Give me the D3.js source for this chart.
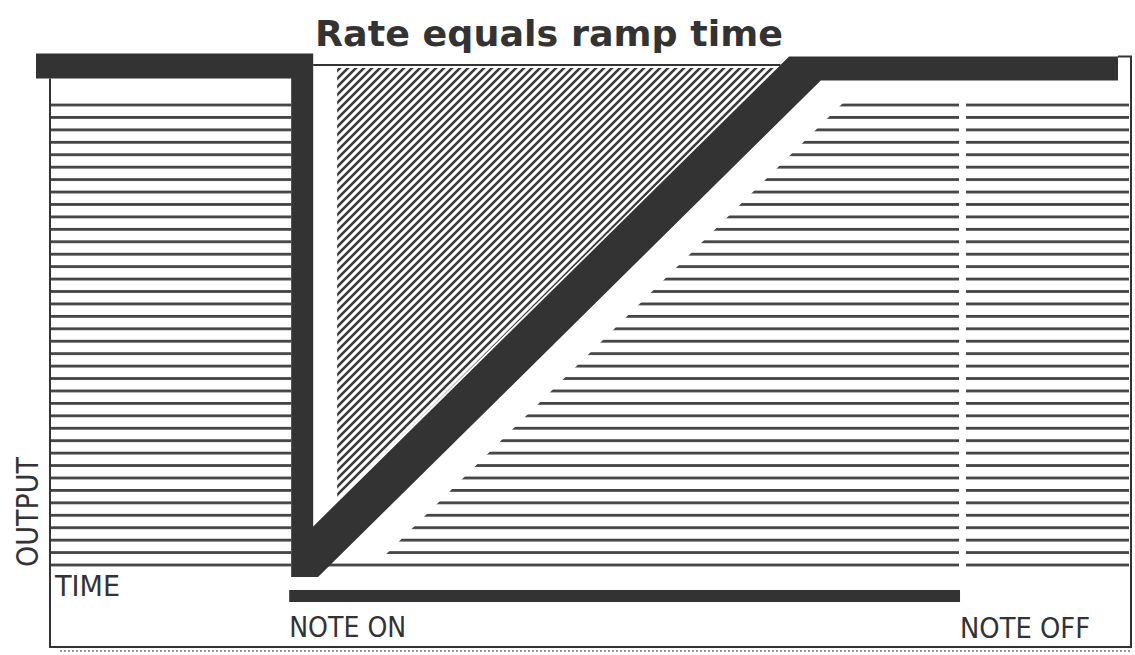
<!DOCTYPE html>
<html>
<head>
<meta charset="utf-8">
<script src="https://cdn.jsdelivr.net/npm/d3@7"></script>
<style>
  html, body { margin: 0; padding: 0; background: #fff; }
  svg { display: block; }
</style>
</head>
<body>
<svg id="chart" width="1135" height="655"></svg>
<script>
// ---------------- data ----------------
const titleText = "Rate equals ramp time";
const envelopeTime = [0, 24.6, 24.6, 71.3, 100];   // % of time window
const envelopeOutput = [1, 1, 0, 1, 1];             // normalized output
const noteOnTime = 24.6;
const noteOffTime = 85.4;
const axisLabels = ["OUTPUT", "TIME"];
const noteLabels = ["NOTE ON", "NOTE OFF"];

// ---------------- layout ----------------
const ink = "#333";
const svg = d3.select("#chart");
const x = d3.scaleLinear().domain([0, 100]).range([36, 1118]);
const y = d3.scaleLinear().domain([0, 1]).range([565, 66]);

const frame = { left: 50, right: 1131, bottom: 647, stripeTop: 99, stripeBottom: 569 };
const pen = { hw: 11, hh: 12.5, dw: 28 };   // pen half sizes

const pts = envelopeTime.map((t, i) => ({ t, v: envelopeOutput[i] }));
const pOn = pts[2], pRamp = pts[3];
const xOn = x(pOn.t), y0 = y(pOn.v), xR = x(pRamp.t), y1 = y(pRamp.v);
const k = (xR - xOn) / (y0 - y1);
const xc = yy => xOn + (y0 - yy) * k;       // diagonal center line
const up = yy => xc(yy) - pen.dw;           // upper-left edge
const lo = yy => xc(yy) + pen.dw;           // lower-right edge
const yAtUp = xx => y0 - (xx + pen.dw - xOn) / k;

const xOnL = xOn - pen.hw, xOnR = xOn + pen.hw;
const yt = y(1) - pen.hh, yb = y(1) + pen.hh, ybot = y(0) + 12;

// ---------------- patterns ----------------
const defs = svg.append("defs");
const stripeGap = (y(0) - 105) / 37;
const sp = defs.append("pattern").attr("id", "stripes")
  .attr("patternUnits", "userSpaceOnUse")
  .attr("x", 0).attr("y", 105 - 1.4)
  .attr("width", 20).attr("height", stripeGap);
sp.append("rect").attr("x", 0).attr("y", 0).attr("width", 20).attr("height", 2.8).attr("fill", "#444");

const hp = defs.append("pattern").attr("id", "hatch")
  .attr("patternUnits", "userSpaceOnUse")
  .attr("width", 8).attr("height", 8);
hp.append("path").attr("d", "M-1,1 l2,-2 M0,8 l8,-8 M7,9 l2,-2")
  .attr("stroke", "#3a3a3a").attr("stroke-width", 2.6);

// ---------------- stripes (left and right of the envelope) ----------------
svg.append("rect")
  .attr("x", frame.left + 1).attr("y", frame.stripeTop)
  .attr("width", xOnL - frame.left - 1).attr("height", frame.stripeBottom - frame.stripeTop)
  .attr("fill", "url(#stripes)");

const sOff = 45;
const rightPoly = [
  [lo(frame.stripeTop) + sOff, frame.stripeTop],
  [frame.right - 2, frame.stripeTop],
  [frame.right - 2, frame.stripeBottom],
  [lo(frame.stripeBottom) - 4, frame.stripeBottom],
  [lo(559) - 4, 559],
  [lo(559) + sOff, 559]
];
svg.append("path")
  .attr("d", d3.line()(rightPoly) + "Z")
  .attr("fill", "url(#stripes)");

// note-off gap
svg.append("rect")
  .attr("x", x(noteOffTime) - 1).attr("y", frame.stripeTop - 2)
  .attr("width", 7).attr("height", frame.stripeBottom - frame.stripeTop + 4)
  .attr("fill", "#fff");

// ---------------- hatched triangle ----------------
const hx0 = xOnR + 24, hy0 = y(1) + 2;
const hatchPoly = [
  [hx0, hy0],
  [up(hy0) - 2, hy0],
  [hx0, y0 - (hx0 + pen.dw + 3 - xOn) / k]
];
svg.append("path").attr("d", d3.line()(hatchPoly) + "Z").attr("fill", "url(#hatch)");

// ---------------- frame ----------------
const fr = svg.append("g").attr("stroke", ink).attr("stroke-width", 2).attr("fill", "none");
fr.append("path").attr("d", d3.line()([[frame.left, yb], [frame.left, frame.bottom], [frame.right, frame.bottom], [frame.right, yt + 3], [x(100), yt + 3]]));
fr.append("line").attr("x1", xOnR).attr("x2", up(y(1) - 1)).attr("y1", y(1) - 1).attr("y2", y(1) - 1);
svg.append("line").attr("x1", 60).attr("x2", frame.right).attr("y1", frame.bottom + 4).attr("y2", frame.bottom + 4)
  .attr("stroke", "#777").attr("stroke-width", 1.5).attr("stroke-dasharray", "2,2");

// ---------------- envelope (thick pen) ----------------
const envPoly = [
  [x(pts[0].t), yt],
  [xOnR, yt],
  [xOnR, yAtUp(xOnR)],
  [up(yt + 3), yt + 3],
  [x(pts[4].t), yt + 3],
  [x(pts[4].t), yb + 2],
  [lo(yb + 2), yb + 2],
  [lo(ybot), ybot],
  [xOnL, ybot],
  [xOnL, yb],
  [x(pts[0].t), yb]
];
svg.append("path").attr("d", d3.line()(envPoly) + "Z").attr("fill", ink);

// ---------------- note bar ----------------
svg.append("rect")
  .attr("x", xOnL - 2).attr("y", 590)
  .attr("width", x(noteOffTime) - xOnL + 2).attr("height", 12)
  .attr("fill", ink);

// ---------------- text ----------------
const labelFont = "'Liberation Sans Narrow', 'DejaVu Sans Condensed', 'DejaVu Sans', sans-serif";
svg.append("text").text(titleText)
  .attr("x", 315).attr("y", 46)
  .attr("textLength", 468).attr("lengthAdjust", "spacingAndGlyphs")
  .attr("font-family", "'DejaVu Sans', sans-serif").attr("font-weight", "bold")
  .attr("font-size", 35).attr("fill", ink);

svg.append("text").text(axisLabels[0])
  .attr("transform", "translate(38,567) rotate(-90)")
  .attr("textLength", 110).attr("lengthAdjust", "spacingAndGlyphs")
  .attr("font-family", labelFont).attr("font-size", 30).attr("fill", ink);

svg.append("text").text(axisLabels[1])
  .attr("x", 55).attr("y", 596)
  .attr("textLength", 65).attr("lengthAdjust", "spacingAndGlyphs")
  .attr("font-family", labelFont).attr("font-size", 29).attr("fill", ink);

svg.append("text").text(noteLabels[0])
  .attr("x", xOnL - 2).attr("y", 637)
  .attr("textLength", 117).attr("lengthAdjust", "spacingAndGlyphs")
  .attr("font-family", labelFont).attr("font-size", 28).attr("fill", ink);

svg.append("text").text(noteLabels[1])
  .attr("x", x(noteOffTime)).attr("y", 638)
  .attr("textLength", 130).attr("lengthAdjust", "spacingAndGlyphs")
  .attr("font-family", labelFont).attr("font-size", 28).attr("fill", ink);
</script>
</body>
</html>
